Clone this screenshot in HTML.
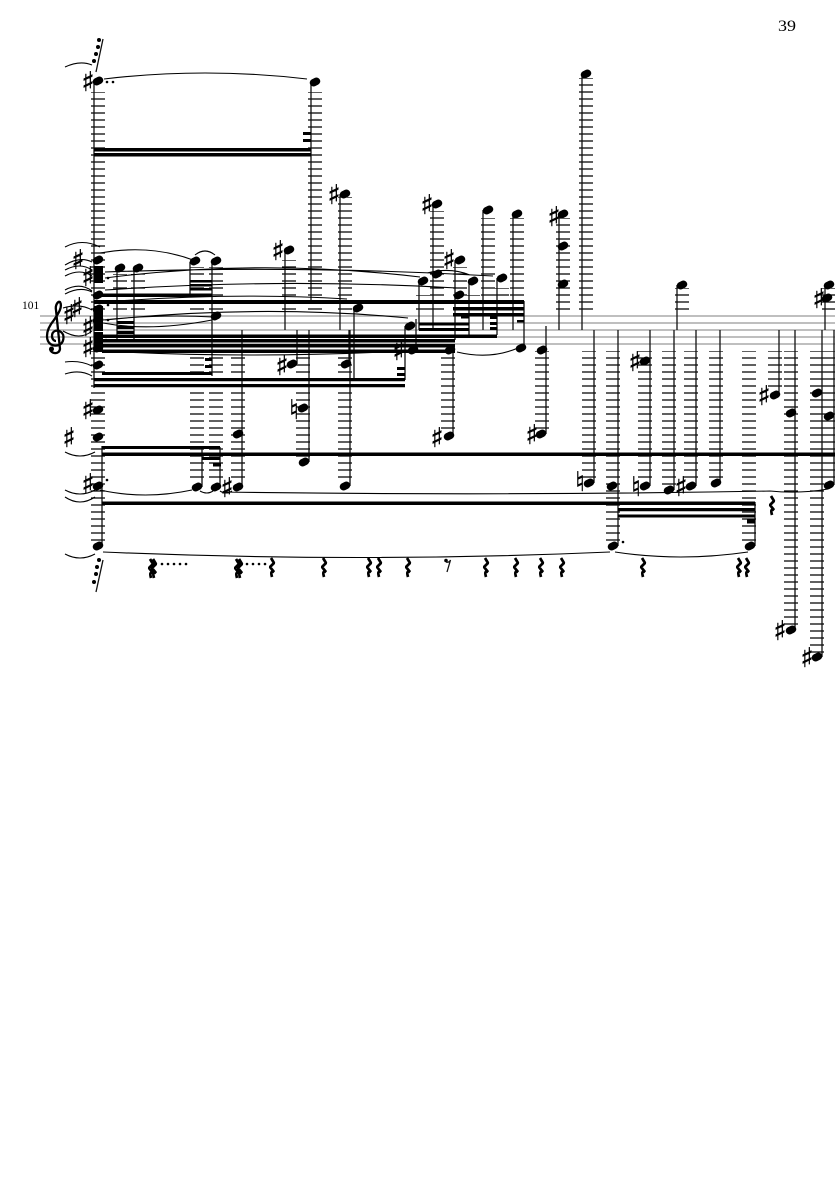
<!DOCTYPE html>
<html>
<head>
<meta charset="utf-8">
<style>
html,body{margin:0;padding:0;background:#fff;width:835px;height:1181px;overflow:hidden}
svg{display:block}
.staff{stroke:#999;stroke-width:1.3;fill:none}
.led{fill:none;stroke:#000;stroke-width:14;stroke-dasharray:1.3 5.7;stroke-dashoffset:.65}
.stem{fill:none;stroke:#111;stroke-width:1.3}
.heads{fill:none;stroke:#000;stroke-width:7.5;stroke-linecap:round}
.tie{fill:none;stroke:#000;stroke-width:1.1}
.rest{fill:none;stroke:#000;stroke-width:2.7;stroke-linejoin:bevel}
.acc{font-family:"DejaVu Sans",sans-serif;font-size:27px;text-anchor:middle;stroke:#000;stroke-width:.45}
text{font-family:"Liberation Serif",serif;fill:#000}
</style>
</head>
<body>
<svg width="835" height="1181" viewBox="0 0 835 1181" xmlns="http://www.w3.org/2000/svg">
<text x="778" y="31" font-size="16" textLength="18" lengthAdjust="spacingAndGlyphs">39</text>
<text x="22" y="309" font-size="11.500">101</text>
<path class="staff" d="M40 316H835M40 323H835M40 330H835M40 337H835M40 344H835"/>
<path class="led" d="M98 92V310M98 351V541M315 92V310M586 78V310M345 197V310M289 260V310M437 211V310M488 218V310M517 218V310M563 218V310M460 267V310M423 295V310M473 295V310M502 288V310M197 267V310M216 267V310M120 274V310M138 274V310M682 288V310M829 288V310M197 351V481M216 351V481M238 351V481M303 351V457M345 351V481M448 351V429M542 351V429M589 351V478M613 351V541M645 351V481M669 351V485M691 351V481M716 351V478M749 351V541M775 351V387M791 351V625M817 351V653M829 351V481"/>
<path class="stem" d="M94 81V388M102 446V546M311 82V300M582 74V330M340 194V330M285 250V330M433 204V330M483 210V330M513 214V330M559 214V330M455 260V340M419 281V330M469 281V335M497 278V335M354 308V380M405 326V380M416 319V350M524 301V348M546 326V350M453 350V436M546 350V434M309 330V462M350 330V486M297 330V364M349 330V364M117 268V340M134 268V340M190 262V296M212 262V376M242 330V487M202 448V487M220 447V487M594 330V483M618 330V546M650 330V486M674 330V490M696 330V486M720 330V483M779 330V395M795 330V630M822 330V657M834 330V485M677 285V330M825 285V330M755 502V546"/>
<path fill="#000" d="M94 148h217v3.500h-217zM94 153h217v3.500h-217zM303 132h8v3h-8zM303 139h8v3h-8zM94 293.500h118v3.500h-118zM94 300h430v4h-430zM453 307h71v3.500h-71zM453 313h71v3.500h-71zM461 316h8v2.500h-8zM490 316h7v3h-7zM490 322h7v3h-7zM490 327h7v3h-7zM517 320h7v2.500h-7zM419 322.500h50v3h-50zM419 328h50v3h-50zM102 334.500h395v3.500h-395zM102 339h353v3.500h-353zM102 344h353v3.500h-353zM102 349.500h353v3.500h-353zM117 321h17v3h-17zM117 326h17v3h-17zM117 331h17v3h-17zM190 280h22v2.500h-22zM190 284h22v2.500h-22zM190 288h22v2.500h-22zM102 372h110v3h-110zM94 378h311v3.200h-311zM94 384h311v3.200h-311zM397 367h8v3h-8zM397 373h8v3h-8zM205 358h7v3h-7zM205 365h7v3h-7zM342 362h8v3h-8zM102 446h118v3h-118zM102 452.500h733v3.500h-733zM202 457h18v3h-18zM213 463h8v3.500h-8zM102 501.500h653v3.500h-653zM618 508h137v3.200h-137zM618 514.500h137v3h-137zM747 519h8v4.500h-8zM94 266h9v17h-9zM94 306h9v25h-9zM94 332h9v20h-9z"/>
<path class="heads" transform="translate(.5 -.25)" d="M96 82l3-1.500M313 83l3-1.500M584 75l3-1.500M343 195l3-1.500M287 251l3-1.500M435 205l3-1.500M486 211l3-1.500M515 215l3-1.500M561 215l3-1.500M561 247l3-1.500M561 285l3-1.500M458 261l3-1.500M421 282l3-1.500M435 275l3-1.500M471 282l3-1.500M500 279l3-1.500M457 296l3-1.500M356 309l3-1.500M408 327l3-1.500M411 351l3-1.500M448 351l3-1.500M519 349l3-1.500M540 351l3-1.500M447 437l3-1.500M539 435l3-1.500M302 463l3-1.500M301 409l3-1.500M343 487l3-1.500M290 365l3-1.500M344 365l3-1.500M96 261l3-1.500M96 296l3-1.500M96 310l3-1.500M96 321l3-1.500M96 349l3-1.500M96 366l3-1.500M96 411l3-1.500M96 438l3-1.500M96 487l3-1.500M96 547l3-1.500M118 269l3-1.500M136 269l3-1.500M193 262l3-1.500M214 262l3-1.500M214 317l3-1.500M236 435l3-1.500M195 488l3-1.500M214 488l3-1.500M236 488l3-1.500M587 484l3-1.500M610 487l3-1.500M643 487l3-1.500M643 362l3-1.500M667 491l3-1.500M689 487l3-1.500M714 484l3-1.500M773 396l3-1.500M789 414l3-1.500M789 631l3-1.500M815 394l3-1.500M815 658l3-1.500M827 417l3-1.500M827 486l3-1.500M680 286l3-1.500M827 286l3-1.500M825 299l3-1.500M611 547l3-1.500M748 547l3-1.500"/>
<path fill="none" stroke="#000" stroke-width="2.600" stroke-linecap="round" d="M107 82h.01M113 82h.01M108 278h.01M108 305h.01M108 320h.01M106 340h.01M107 480h.01M623 542h.01M162 564h.01M168 564h.01M174 564h.01M180 564h.01M186 564h.01M247 564h.01M253 564h.01M259 564h.01M265 564h.01"/>
<path fill="none" stroke="#000" stroke-width="4" stroke-linecap="round" d="M99 40h.01M98 47h.01M96 54h.01M94 61h.01M99 560h.01M97 567h.01M96 574h.01M94 582h.01"/>
<path class="stem" d="M103 39L96 72M103 560L96 592"/>
<text class="acc" x="88 78 88 69 77 88 88 88 69 88 278 334 427 449 554 282 399 437 532 227 635 681 764 780 807 819" y="91 269 286 324 317 336 357 419 447 493 260 204 214 269 226 375 360 447 444 497 371 496 405 640 667 308">♯♯♯♯♯♯♯♯♯♯♯♯♯♯♯♯♯♯♯♯♯♯♯♯♯♯</text>
<text class="acc" x="580 636 294" y="491 496 419">♮♮♮</text>
<path fill="none" stroke="#000" stroke-width="2.300" d="M50 349c1 5 9 6 10 0L56 310c-1-5 2-9 4-8c3 5-2 12-6 18c-5 6-7 11-7 16c0 8 6 11 12 9c5-2 6-10 2-13c-4-3-9-1-9 4c0 3 2 5 4 5"/>
<path fill="none" stroke="#000" stroke-width="5" stroke-linecap="round" d="M51.500 349h.01"/>
<path class="tie" d="M104 79Q205 67 307 79M65 67Q80 60 92 65M65 247Q82 238 100 247M100 253Q150 244 193 260M195 255Q205 247 215 255M65 265Q80 256 92 262M65 270Q80 262 92 270M65 276Q80 268 92 276M65 290Q80 282 92 291M65 294Q80 286 92 292M63 308Q80 303 92 310M63 331Q80 341 92 331M65 362Q80 360 92 366M65 374Q80 369 92 376M65 452Q80 460 95 452M65 490Q80 498 95 490M65 497Q80 507 95 497M65 554Q80 562 95 554M105 272Q300 265 493 276M105 278Q260 258 420 277M105 290Q280 278 457 288M105 302Q230 292 347 299M103 320Q160 314 213 317M105 320Q260 304 408 318M103 323Q150 332 212 320M103 351Q250 359 405 351M457 352Q490 360 518 348M427 273Q450 267 470 275M100 490Q145 500 192 490M200 491Q207 495 213 491M220 491Q226 495 232 491M222 492Q500 496 770 491M770 491Q800 494 828 489M103 552Q360 563 610 552M615 552Q680 562 748 552"/>
<path class="rest" d="M150 559l3 5l-4 4l4 5q-4-2-2 5M153 559l3 5l-4 4l4 5q-4-2-2 5M236 559l3 5l-4 4l4 5q-4-2-2 5M239 559l3 5l-4 4l4 5q-4-2-2 5M271 558l3 5l-4 4l4 5q-4-2-2 5M323 558l3 5l-4 4l4 5q-4-2-2 5M368 558l3 5l-4 4l4 5q-4-2-2 5M378 558l3 5l-4 4l4 5q-4-2-2 5M407 558l3 5l-4 4l4 5q-4-2-2 5M485 558l3 5l-4 4l4 5q-4-2-2 5M515 558l3 5l-4 4l4 5q-4-2-2 5M540 558l3 5l-4 4l4 5q-4-2-2 5M561 558l3 5l-4 4l4 5q-4-2-2 5M642 558l3 5l-4 4l4 5q-4-2-2 5M738 558l3 5l-4 4l4 5q-4-2-2 5M746 558l3 5l-4 4l4 5q-4-2-2 5M771 496l3 5l-4 4l4 5q-4-2-2 5"/>
<path fill="none" stroke="#000" stroke-width="3.600" stroke-linecap="round" d="M446 560.500h.01"/>
<path class="stem" d="M446 562Q449 563 450.500 560L447 572"/>
</svg>
</body>
</html>
